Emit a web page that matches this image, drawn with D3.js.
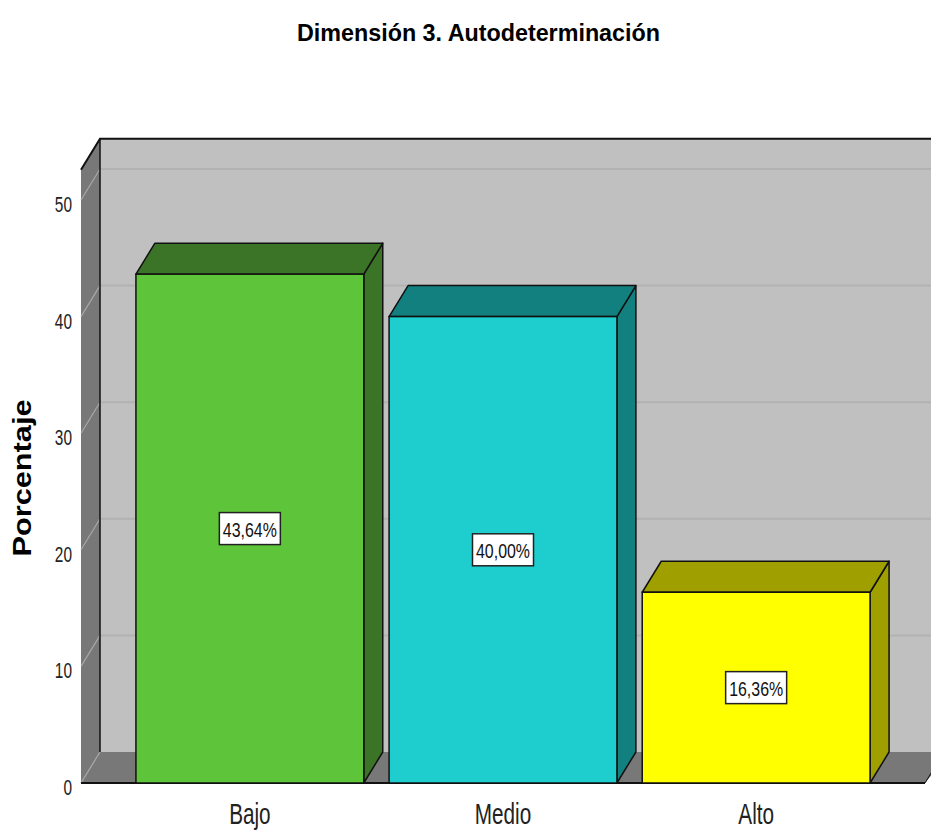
<!DOCTYPE html>
<html>
<head>
<meta charset="utf-8">
<script src="https://cdn.jsdelivr.net/npm/d3@7"></script>
<style>
  body { margin: 0; background: #fff; }
  svg { display: block; }
</style>
</head>
<body>
<div id="chart"></div>
<script>
const categories = ["Bajo", "Medio", "Alto"];
const percentages = [43.64, 40.00, 16.36];
const valueLabels = ["43,64%", "40,00%", "16,36%"];
const yTicks = [0, 10, 20, 30, 40, 50];

const frontColors = ["#5ec43a", "#1ecece", "#ffff00"];
const darkColors = ["#3b7426", "#138080", "#9f9f00"];

const width = 931, height = 831;
const font = "'Liberation Sans', Arial, sans-serif";
const depthX = 19, depthY = -31;

// squeeze glyphs horizontally, the reference uses a narrow face
function squeeze(sel, factor) {
    sel.each(function () {
        const w = this.getComputedTextLength();
        d3.select(this)
            .attr("textLength", w * factor)
            .attr("lengthAdjust", "spacingAndGlyphs");
    });
}

const svg = d3.select("#chart").append("svg")
    .attr("width", width)
    .attr("height", height);

// Title
svg.append("text")
    .attr("x", 478.5)
    .attr("y", 41)
    .attr("text-anchor", "middle")
    .attr("textLength", 363)
    .attr("lengthAdjust", "spacingAndGlyphs")
    .style("font-family", font)
    .style("font-weight", "bold")
    .style("font-size", "23px")
    .text("Dimensión 3. Autodeterminación");

const y = d3.scaleLinear()
    .domain([0, 50])
    .range([783, 200]);
const yTop = y(52.6);

const x = d3.scaleBand()
    .domain(categories)
    .range([81, 925])
    .paddingInner(0.1)
    .paddingOuter(0.217);

const floorBack = y(0) + depthY;
const line = d3.line();

// Back wall
svg.append("rect")
    .attr("x", 81 + depthX)
    .attr("y", yTop + depthY)
    .attr("width", width)
    .attr("height", floorBack - (yTop + depthY))
    .attr("fill", "#c0c0c0");

// Left wall
svg.append("path")
    .attr("d", line([[81, yTop], [81 + depthX, yTop + depthY], [81 + depthX, floorBack], [81, y(0)]]) + "Z")
    .attr("fill", "#787878");

// Floor
svg.append("path")
    .attr("d", line([[81, y(0)], [81 + depthX, floorBack], [width + 20, floorBack], [925, y(0)]]) + "Z")
    .attr("fill", "#787878");

// Gridlines
yTicks.filter(d => d > 0).forEach(t => {
    svg.append("line")
        .attr("x1", 81 + depthX).attr("x2", width)
        .attr("y1", y(t) + depthY).attr("y2", y(t) + depthY)
        .attr("stroke", "#b2b2b2").attr("stroke-width", 2);
});
yTicks.forEach(t => {
    svg.append("line")
        .attr("x1", 81).attr("x2", 81 + depthX)
        .attr("y1", y(t)).attr("y2", y(t) + depthY)
        .attr("stroke", "#a8a8a8").attr("stroke-width", 1.2);
});

// Wall edges
svg.append("path")
    .attr("d", line([[81, yTop], [81 + depthX, yTop + depthY], [width + 5, yTop + depthY]]))
    .attr("fill", "none").attr("stroke", "#111").attr("stroke-width", 2);
svg.append("line")
    .attr("x1", 81 + depthX).attr("x2", 81 + depthX)
    .attr("y1", yTop + depthY).attr("y2", floorBack)
    .attr("stroke", "#111").attr("stroke-width", 1.5);
svg.append("line")
    .attr("x1", 81).attr("x2", 925)
    .attr("y1", y(0)).attr("y2", y(0))
    .attr("stroke", "#111").attr("stroke-width", 2);
svg.append("line")
    .attr("x1", 925).attr("x2", 925 + depthX)
    .attr("y1", y(0)).attr("y2", floorBack)
    .attr("stroke", "#111").attr("stroke-width", 1);

// Bars
const bars = svg.selectAll(".bar")
    .data(categories)
    .enter()
    .append("g")
    .attr("class", "bar");

bars.each(function (c, i) {
    const g = d3.select(this);
    const x0 = x(c), x1 = x(c) + x.bandwidth();
    const yt = y(percentages[i]), yb = y(0);
    g.append("path")
        .attr("d", line([[x1, yt], [x1 + depthX, yt + depthY], [x1 + depthX, yb + depthY], [x1, yb]]) + "Z")
        .attr("fill", darkColors[i]).attr("stroke", "#111").attr("stroke-width", 1.5)
        .attr("stroke-linejoin", "round");
    g.append("path")
        .attr("d", line([[x0, yt], [x0 + depthX, yt + depthY], [x1 + depthX, yt + depthY], [x1, yt]]) + "Z")
        .attr("fill", darkColors[i]).attr("stroke", "#111").attr("stroke-width", 1.5)
        .attr("stroke-linejoin", "round");
    g.append("rect")
        .attr("x", x0).attr("y", yt)
        .attr("width", x.bandwidth()).attr("height", yb - yt)
        .attr("fill", frontColors[i]).attr("stroke", "#111").attr("stroke-width", 1.5);

    // Value label
    const cx = x0 + x.bandwidth() / 2, cy = (yt + yb) / 2;
    g.append("rect")
        .attr("x", cx - 30.5).attr("y", cy - 16)
        .attr("width", 61).attr("height", 32)
        .attr("fill", "#fff").attr("stroke", "#222").attr("stroke-width", 1.5);
    g.append("text")
        .attr("x", cx).attr("y", cy + 8)
        .attr("text-anchor", "middle")
        .attr("textLength", 54)
        .attr("lengthAdjust", "spacingAndGlyphs")
        .style("font-family", font)
        .style("font-size", "21px")
        .style("fill", "#111")
        .text(valueLabels[i]);
});

// Y axis labels
const yAxis = svg.append("g")
    .attr("transform", "translate(72,0)")
    .call(d3.axisLeft(y).tickValues(yTicks).tickSize(0).tickPadding(0));
yAxis.select(".domain").remove();
yAxis.selectAll("text")
    .style("font-family", font)
    .style("font-size", "22px")
    .attr("dy", 11.5)
    .style("fill", "#222")
    .call(squeeze, 0.7);

// X axis labels
const xAxis = svg.append("g")
    .attr("transform", `translate(0,${y(0)})`)
    .call(d3.axisBottom(x).tickSize(0).tickPadding(0));
xAxis.select(".domain").remove();
xAxis.selectAll("text")
    .attr("y", 41)
    .attr("dy", 0)
    .style("font-family", font)
    .style("font-size", "30px")
    .style("fill", "#222")
    .call(squeeze, 0.69);

// Y axis title
svg.append("text")
    .attr("transform", "translate(31,478) rotate(-90) scale(1,0.88)")
    .attr("text-anchor", "middle")
    .attr("textLength", 157)
    .attr("lengthAdjust", "spacingAndGlyphs")
    .style("font-family", font)
    .style("font-weight", "bold")
    .style("font-size", "29px")
    .text("Porcentaje");
</script>
</body>
</html>
